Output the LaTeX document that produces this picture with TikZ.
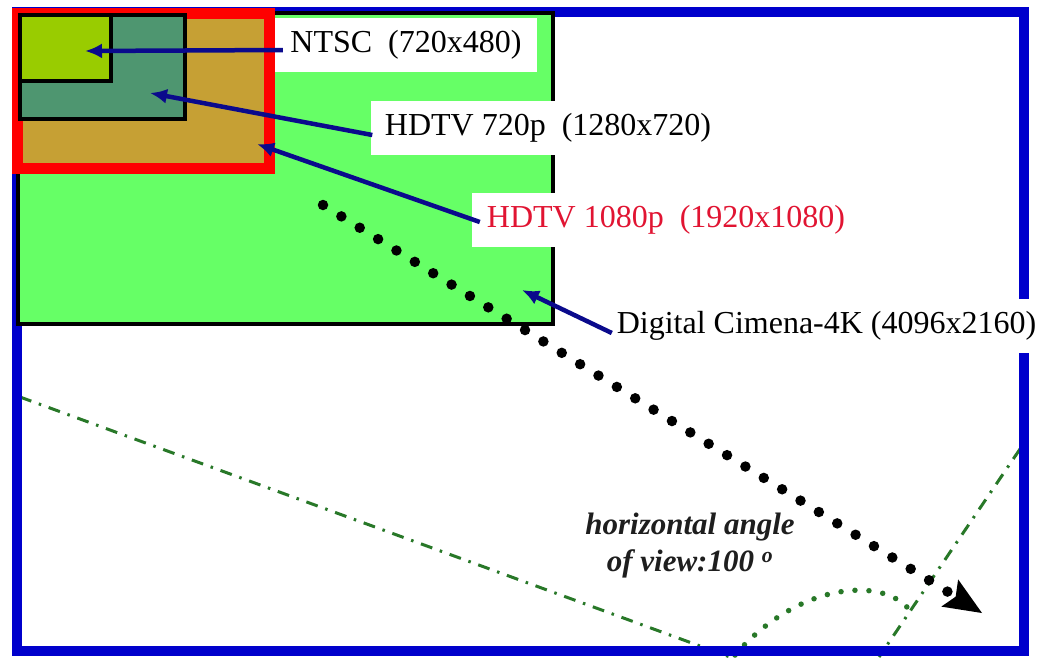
\documentclass[tikz,border=0pt]{standalone}
\usepackage{fontspec}
\setmainfont{Liberation Serif}
\usetikzlibrary{arrows.meta}
\definecolor{frameblue}{RGB}{0,0,204}
\definecolor{cinegreen}{RGB}{102,255,102}
\definecolor{hdgold}{RGB}{198,160,52}
\definecolor{hdred}{RGB}{255,0,0}
\definecolor{tealg}{RGB}{78,150,112}
\definecolor{ntscyg}{RGB}{153,204,0}
\definecolor{ptrnavy}{RGB}{10,10,140}
\definecolor{labelred}{RGB}{225,20,50}
\definecolor{fovgreen}{RGB}{40,120,40}
\definecolor{fovtext}{RGB}{30,30,30}
\begin{document}
\begin{tikzpicture}[x=1pt,y=-1pt,
  lbl/.style={fill=white, inner sep=0pt, minimum height=54pt, font=\fontsize{32}{38}\selectfont},
  ptr/.style={draw=ptrnavy, line width=4.5pt, -{Latex[length=17pt,width=15pt]}},
  res/.style={draw=black, line width=4pt},
  fovline/.style={draw=fovgreen, line width=3pt, dash pattern=on 12pt off 8pt on 2.5pt off 8pt},
  fovdots/.style={draw=fovgreen, line width=5.5pt, line cap=round, dash pattern=on 0pt off 14pt},
  bigdots/.style={draw=black, line width=10.5pt, line cap=round, dash pattern=on 0pt off 21.6pt,
     -{Stealth[length=38pt,width=32pt,inset=7pt,line width=0pt]}},
]
\useasboundingbox (0,0) rectangle (1043,657);
\fill[white] (0,0) rectangle (1043,657);

% field-of-view lines
\coordinate (fovA1) at (20,397);
\coordinate (fovA2) at (730,657);
\coordinate (fovB1) at (1020,449);
\coordinate (fovB2) at (879,657);
\draw[fovline] (fovA1) -- (fovA2);
\draw[fovline] (fovB1) -- (fovB2);
\coordinate (arcA) at (735,655);
\coordinate (arcB) at (913,615);
\draw[fovdots] (arcA) .. controls (800,580) and (890,575) .. (arcB);

% outer frame
\draw[frameblue, line width=10pt] (17,12) rectangle (1024,651);

% resolution rectangles
\draw[res, fill=cinegreen] (18,13) rectangle (553,324);
\draw[hdred, line width=11pt, fill=hdgold] (17.5,13) rectangle (269,168);
\draw[res, fill=tealg] (20,15) rectangle (185,119);
\draw[res, fill=ntscyg] (20,15) rectangle (111,81);

% big dotted arrow
\coordinate (dotstart) at (323,205);
\coordinate (dotend) at (982,613);
\draw[bigdots] (dotstart) -- (dotend);

% labels
\node[lbl, minimum width=262pt] (ntsc) at (406,45) {NTSC\ \ (720x480)};
\node[lbl, minimum width=355pt] (hd720) at (548,128) {HDTV 720p\ \ (1280x720)};
\node[lbl, minimum width=388pt, text=labelred] (hd1080) at (666,220) {HDTV 1080p\ \ (1920x1080)};
\node[lbl, minimum width=433pt] (cine) at (826.5,326) {Digital Cimena-4K (4096x2160)};

% pointer tips
\coordinate (tipntsc) at (85,51);
\coordinate (tip720) at (150,93);
\coordinate (tip1080) at (257,144);
\coordinate (tipcine) at (522,290);

\draw[ptr] ([xshift=8pt,yshift=-5pt]ntsc.west) -- (tipntsc);
\draw[ptr] ([xshift=2pt,yshift=-7pt]hd720.west) -- (tip720);
\draw[ptr] ([xshift=8pt,yshift=-2pt]hd1080.west) -- (tip1080);
\draw[ptr] ([xshift=2pt,yshift=-7pt]cine.west) -- (tipcine);

% angle label
\node[font=\fontsize{31}{37}\selectfont\bfseries\itshape, text=fovtext, align=center, inner sep=0pt]
  (fovlabel) at (690,546) {horizontal angle\\of view:100 \textsuperscript{o}};
\end{tikzpicture}
\end{document}
